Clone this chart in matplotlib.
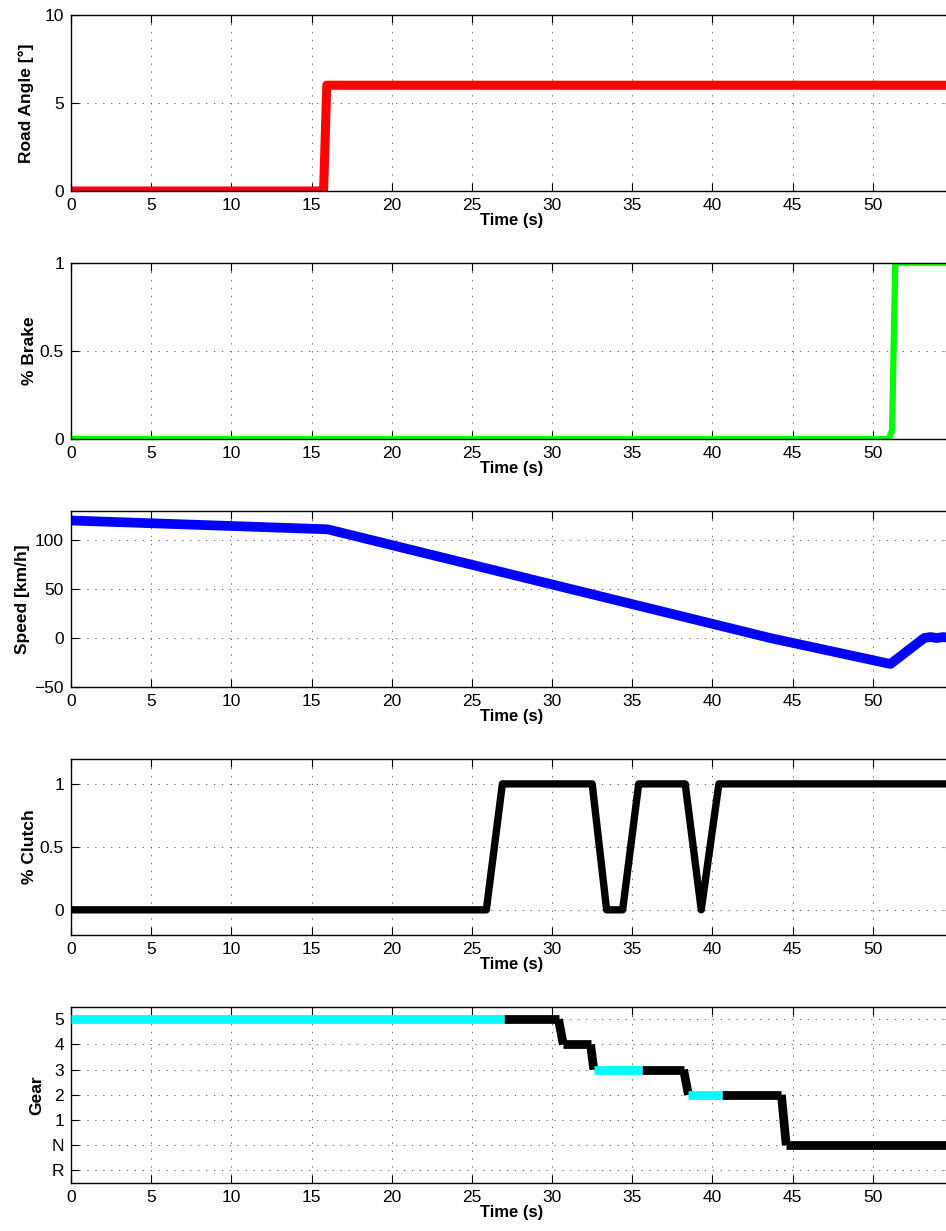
import matplotlib
matplotlib.use('Agg')
import matplotlib.pyplot as plt

plt.rcParams['font.family'] = ['Liberation Sans', 'DejaVu Sans']

# road angle [deg]
angle_t = [0, 15.75, 15.95, 55]
angle_v = [0, 0, 6, 6]

# brake [0..1]
brake_t = [0, 51.0, 51.2, 51.4, 55]
brake_v = [0, 0, 0.05, 1, 1]

# speed [km/h]
speed_t = [0, 16.0, 43.6, 51.1, 53.2, 53.6, 54.0, 54.4, 54.8, 55]
speed_v = [120, 111, 0, -26.5, 0, 1, 0, 1, 0, 0]

# clutch [0..1]
clutch_t = [0, 25.9, 26.9, 32.5, 33.4, 34.4, 35.4, 38.3, 39.3, 40.4, 55]
clutch_v = [0, 0, 1, 1, 0, 0, 1, 1, 0, 1, 1]

# gear (R=-1, N=0), and which segment between points is cyan
gear_t = [0, 27.0, 30.4, 30.7, 32.4, 32.6, 35.6, 38.2, 38.5, 40.6, 44.3, 44.6, 55]
gear_v = [5, 5, 5, 4, 4, 3, 3, 3, 2, 2, 2, 0, 0]
gear_cyan = [1, 0, 0, 0, 0, 1, 0, 0, 1, 0, 0, 0]
gear_ticks = [-1, 0, 1, 2, 3, 4, 5]
gear_labels = ['R', 'N', '1', '2', '3', '4', '5']

x_ticks = list(range(0, 55, 5))

fig = plt.figure(figsize=(9.46, 12.31), dpi=100)

W, H = 946.0, 1231.0
left = 71 / W
width = (953 - 71) / W
tops = [14.7 + 248 * i for i in range(5)]
axh = 176.3

def make_ax(i):
    ax = fig.add_axes([left, 1 - (tops[i] + axh) / H, width, axh / H])
    ax.set_xlim(0, 55)
    ax.set_xticks(x_ticks)
    ax.tick_params(direction='in', length=6, width=0.8, top=True, right=True,
                   labelsize=12.5, pad=5)
    ax.grid(True, color='0.3', linestyle=(0, (1.5, 8)), linewidth=0.6)
    for s in ax.spines.values():
        s.set_linewidth(1.0)
    ax.set_xlabel('Time (s)', fontsize=12, fontweight='bold', labelpad=0)
    return ax

ax = make_ax(0)
ax.plot(angle_t, angle_v, color='red', lw=6.5, solid_joinstyle='round')
ax.set_ylim(0, 10)
ax.set_yticks([0, 5, 10])
ax.set_ylabel('Road Angle [°]', fontsize=12.5, fontweight='bold', labelpad=8)

ax = make_ax(1)
ax.plot(brake_t, brake_v, color='#00ff00', lw=4.5, solid_joinstyle='round')
ax.set_ylim(0, 1)
ax.set_yticks([0, 0.5, 1])
ax.set_yticklabels(['0', '0.5', '1'])
ax.set_ylabel('% Brake', fontsize=12.5, fontweight='bold', labelpad=2)

ax = make_ax(2)
ax.plot(speed_t, speed_v, color='blue', lw=7, solid_joinstyle='round')
ax.set_ylim(-50, 130)
ax.set_yticks([-50, 0, 50, 100])
ax.set_ylabel('Speed [km/h]', fontsize=12.5, fontweight='bold', labelpad=3)

ax = make_ax(3)
ax.plot(clutch_t, clutch_v, color='black', lw=5.3, solid_joinstyle='round')
ax.set_ylim(-0.2, 1.2)
ax.set_yticks([0, 0.5, 1])
ax.set_yticklabels(['0', '0.5', '1'])
ax.set_ylabel('% Clutch', fontsize=12.5, fontweight='bold', labelpad=2)

ax = make_ax(4)
for k in range(len(gear_t) - 1):
    c = 'cyan' if gear_cyan[k] else 'black'
    ax.plot(gear_t[k:k + 2], gear_v[k:k + 2], color=c, lw=6.3,
            solid_capstyle='butt', zorder=3 if gear_cyan[k] else 2)
ax.set_ylim(-1.5, 5.5)
ax.set_yticks(gear_ticks)
ax.set_yticklabels(gear_labels)
ax.set_ylabel('Gear', fontsize=12.5, fontweight='bold', labelpad=5)

fig.savefig('out.png', dpi=100)
